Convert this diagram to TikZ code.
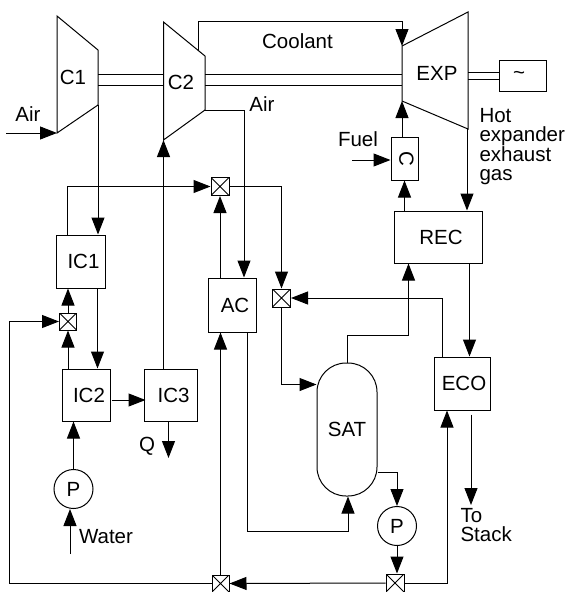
\documentclass[tikz,border=0pt]{standalone}
\usepackage{fontspec}
\usepackage{graphicx}
\setmainfont{Liberation Sans}
\usetikzlibrary{arrows.meta,calc}
\tikzset{
  unit/.style={draw,inner sep=0pt},
  pump/.style={draw,circle,inner sep=0pt,minimum size=39pt},
  mixer/.style={draw,inner sep=0pt,minimum size=#1,path picture={
    \draw (path picture bounding box.north west)--(path picture bounding box.south east)
          (path picture bounding box.north east)--(path picture bounding box.south west);}},
  mixer/.default=18pt,
  flow/.style={-{Triangle[length=17pt,width=13pt]}},
  tag/.style={inner sep=0pt}
}
\begin{document}
\begin{tikzpicture}[x=1pt,y=-1pt,line width=1pt,font=\fontsize{20.5}{19}\selectfont]
\useasboundingbox (0,0) rectangle (570,592);
% machines on the shaft
\coordinate (c1a) at (57,16);
\coordinate (c1b) at (98,50);
\coordinate (c1c) at (98,105);
\coordinate (c1d) at (57,133);
\coordinate (c2a) at (163.5,22);
\coordinate (c2b) at (205,56);
\coordinate (c2c) at (205,110);
\coordinate (c2d) at (163.5,140);
\coordinate (expa) at (402,46);
\coordinate (expb) at (468,12);
\coordinate (expc) at (468,129);
\coordinate (expd) at (402,101);
\draw (c1a)--(c1b)--(c1c)--(c1d)--cycle;
\draw (c2a)--(c2b)--(c2c)--(c2d)--cycle;
\draw (expa)--(expb)--(expc)--(expd)--cycle;
\node[tag] (c1) at (73,77) {C1};
\node[tag] (c2) at (181,82) {C2};
\node[tag] (exp) at (437,73) {EXP};
\node[unit,minimum width=47pt,minimum height=31pt] (gen) at (522.5,75.5) {\hspace*{-7pt}\raisebox{-3pt}{\char`~}};
\foreach \y in {74,85} {
  \draw (c1b |- 0,\y)--(c2a |- 0,\y);
  \draw (c2b |- 0,\y)--(expa |- 0,\y);
}
\foreach \y in {72,79} \draw (expb |- 0,\y)--(gen.west |- 0,\y);
% heat exchangers
\node[unit,minimum width=49pt,minimum height=53pt] (ic1) at (80.5,261.5) {\hspace*{6pt}IC1};
\node[unit,minimum width=48pt,minimum height=52pt] (ic2) at (86,395) {\hspace*{6pt}IC2};
\node[unit,minimum width=53pt,minimum height=52pt] (ic3) at (170.5,395) {\hspace*{6pt}IC3};
\node[unit,minimum width=48pt,minimum height=54pt] (ac) at (232,305) {\hspace*{6pt}AC};
\node[unit,minimum width=88pt,minimum height=52pt] (rec) at (438,237) {\hspace*{6pt}REC};
\node[unit,minimum width=56pt,minimum height=53pt] (eco) at (462,383.5) {\hspace*{4pt}ECO};
\node[unit,minimum width=27pt,minimum height=43pt] (cc) at (404.5,158.5) {\hspace*{4pt}\rotatebox{-90}{C}};
\node[unit,rounded corners=29pt,minimum width=60pt,minimum height=133pt] (sat) at (347,429.5) {SAT};
\node[pump] (p1) at (73.5,489) {P};
\node[pump] (p2) at (397,526) {P};
% mixers
\node[mixer] (mix1) at (220,186.5) {};
\node[mixer] (mix2) at (281.5,298) {};
\node[mixer] (mix3) at (395,583) {};
\node[mixer=17pt] (mix4) at (220.5,583.5) {};
\node[mixer=17pt] (mix5) at (68,321.5) {};
% free ends
\coordinate (airin) at (6,133);
\coordinate (fuelin) at (352,160);
\coordinate (waterin) at (70,554);
\coordinate (stack) at (471,505);
\coordinate (qout) at (168.5,458);
\coordinate (coolbend) at (402,21);
\coordinate (coolout) at (198,50);
\coordinate (loop) at (9,321.5);
\coordinate (satin) at (348,531);
% texts
\node[tag] (air1) at (28,114) {Air};
\node[tag] (air2) at (262,104) {Air};
\node[tag] (coolant) at (297.5,41) {Coolant};
\node[tag] (fuel) at (358,139) {Fuel};
\node[tag] (water) at (106,537) {Water};
\node[tag] (q) at (147,446) {Q};
\node[tag,anchor=north west,align=left] (hot) at (479,108) {Hot\\expander\\exhaust\\gas};
\node[tag,anchor=north west,align=left] (tostack) at (460,508) {To\\Stack};
% flows
\draw[flow] (airin)--(c1d);
\draw[flow] (c1c)--(c1c |- ic1.north);
\draw[flow] (coolout) |- (coolbend)--(expa);
\draw[flow] (c2c) -| ($(ac.north)+(12,0)$);
\draw[flow] ($(ic1.north west)+(12,0)$) |- (mix1.west);
\draw[flow] (mix1.south |- ac.north)--(mix1.south);
\draw[flow] (mix1.east) -| (mix2.north);
\draw[flow] (mix2.south) |- ($(sat.north west)+(0,22)$);
\draw[flow] (sat.north) |- ($(rec.south west)+(15,72)$)--($(rec.south west)+(15,0)$);
\draw[flow] (rec.north -| cc.south)--(cc.south);
\draw[flow] (cc.north -| expd)--(expd);
\draw[flow] (fuelin)--(fuelin -| cc.west);
\draw[flow] ($(expc)+(-1,0)$)--($(expc |- rec.north)+(-1,0)$);
\draw[flow] ($(rec.south east)+(-13,0)$)--($(rec.south east |- eco.north)+(-13,0)$);
\draw[flow] ($(eco.north west)+(9,0)$) |- (mix2.east);
\draw[flow] ($(eco.south)+(9,4)$)--(stack);
\draw[flow] ($(sat.east)+(0,43)$) -| (p2.north);
\draw[flow] (p2.south)--(p2.south |- mix3.north);
\draw[flow] (mix3.east) -| ($(eco.south)+(-15,0)$);
\draw[flow] (mix3.west)--(mix4.east);
\draw[flow] (mix4.north)--(mix4.north |- ac.south);
\draw[flow] (mix4.west) -| (loop)--(mix5.west);
\draw[flow] (mix5.north)--(mix5.north |- ic1.south);
\draw[flow] (mix5.north |- ic2.north)--(mix5.south);
\draw[flow] ($(ic1.south east)+(-8,0)$)--($(ic1.south east |- ic2.north)+(-8,0)$);
\draw[flow] ($(ic2.east)+(1,5)$)--($(ic3.west)+(2,5)$);
\draw[flow] (c2d |- ic3.north)--(c2d);
\draw[flow] (qout |- ic3.south)--(qout);
\draw[flow] (p1.north)--(p1.north |- ic2.south);
\draw[flow] (waterin)--(waterin |- p1.south);
\draw[flow] ($(ac.south east)+(-9,0)$) |- (satin)--(satin |- sat.south);
\end{tikzpicture}
\end{document}
